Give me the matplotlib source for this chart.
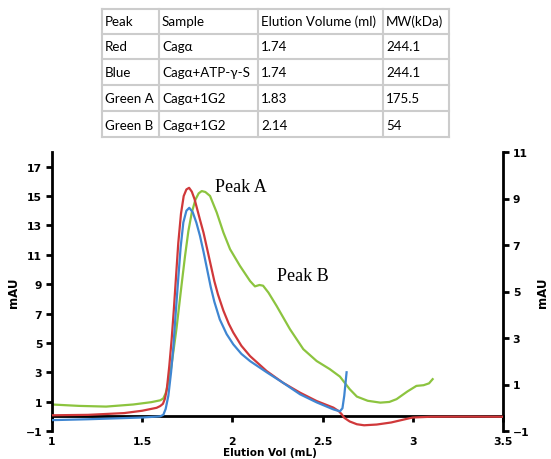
import numpy as np
import matplotlib
matplotlib.use("Agg")
import matplotlib.pyplot as plt

# ---------------------------------------------------------------------------
# table data
# ---------------------------------------------------------------------------
tab_header = ["Peak", "Sample", "Elution Volume (ml)", "MW(kDa)"]
tab_peak = ["Red", "Blue", "Green A", "Green B"]
tab_sample = ["Cag\u03b1", "Cag\u03b1+ATP-\u03b3-S", "Cag\u03b1+1G2", "Cag\u03b1+1G2"]
tab_vol = ["1.74", "1.74", "1.83", "2.14"]
tab_mw = ["244.1", "244.1", "175.5", "54"]

# ---------------------------------------------------------------------------
# chromatograms (elution volume mL, absorbance mAU)
# red and blue on left axis, green on right axis
# ---------------------------------------------------------------------------
red_x = [1.00, 1.20, 1.40, 1.50, 1.58, 1.60, 1.615, 1.626, 1.636, 1.65,
         1.663, 1.675, 1.688, 1.70, 1.715, 1.73, 1.745, 1.76, 1.775, 1.79,
         1.805, 1.82, 1.84, 1.86, 1.88, 1.90, 1.92, 1.95, 1.98, 2.005,
         2.05, 2.098, 2.19, 2.28, 2.375, 2.467, 2.56, 2.59, 2.606, 2.62,
         2.65, 2.69, 2.73, 2.80, 2.88, 2.95, 3.00, 3.10, 3.30, 3.50]
red_y = [0.07, 0.10, 0.22, 0.38, 0.58, 0.70, 0.85, 1.2, 1.8, 3.4,
         5.2, 7.2, 9.6, 11.8, 13.8, 15.0, 15.45, 15.56, 15.3, 14.8,
         14.1, 13.4, 12.5, 11.4, 10.3, 9.2, 8.3, 7.2, 6.3, 5.7,
         4.8, 4.1, 3.08, 2.29, 1.61, 1.04, 0.59, 0.35, 0.14, -0.1,
         -0.35, -0.54, -0.61, -0.56, -0.42, -0.22, -0.08, -0.03, -0.02, -0.03]

blue_x = [1.00, 1.20, 1.40, 1.50, 1.58, 1.60, 1.617, 1.63, 1.645, 1.66,
          1.672, 1.685, 1.70, 1.713, 1.728, 1.745, 1.761, 1.78, 1.80, 1.82,
          1.84, 1.86, 1.88, 1.90, 1.93, 1.968, 2.005, 2.05, 2.098, 2.19,
          2.28, 2.375, 2.467, 2.56, 2.596, 2.61, 2.62, 2.633]
blue_y = [-0.26, -0.20, -0.12, -0.08, -0.02, 0.0, 0.1, 0.5, 1.4, 3.0,
          4.6, 6.9, 9.4, 11.5, 13.2, 14.0, 14.2, 13.9, 13.2, 12.3,
          11.2, 10.0, 8.8, 7.8, 6.6, 5.6, 4.9, 4.25, 3.76, 3.0,
          2.29, 1.5, 0.95, 0.47, 0.34, 0.55, 1.4, 3.0]

green_x = [1.00, 1.15, 1.30, 1.45, 1.55, 1.60, 1.617, 1.63, 1.645, 1.66,
           1.672, 1.69, 1.705, 1.72, 1.737, 1.756, 1.775, 1.795, 1.813, 1.83,
           1.85, 1.876, 1.913, 1.95, 1.987, 2.042, 2.098, 2.125, 2.15, 2.17,
           2.20, 2.245, 2.319, 2.393, 2.467, 2.54, 2.596, 2.65, 2.69, 2.75,
           2.82, 2.87, 2.91, 2.97, 3.02, 3.06, 3.09, 3.11]
green_y = [0.14, 0.08, 0.05, 0.14, 0.24, 0.32, 0.40, 0.62, 1.1, 1.7,
           2.37, 3.4, 4.4, 5.4, 6.5, 7.6, 8.4, 8.95, 9.22, 9.32,
           9.28, 9.11, 8.4, 7.54, 6.82, 6.1, 5.45, 5.22, 5.28, 5.25,
           4.95, 4.38, 3.38, 2.52, 2.01, 1.66, 1.34, 0.8, 0.48, 0.3,
           0.22, 0.25, 0.37, 0.7, 0.94, 0.97, 1.05, 1.23]

c_red = "#d0383a"
c_blue = "#3f86d2"
c_green = "#8cc43f"

W, H = 551, 460
fig = plt.figure(figsize=(W/100., H/100.), dpi=100)

##############################################################################
# table drawn in pixel units
#-----------------------------------------------------------------------------
tx0, ty0, tx1, ty1 = 102, 10, 449, 138
tab = fig.add_axes([tx0/W, 1-ty1/H, (tx1-tx0)/W, (ty1-ty0)/H])
tab.set_xlim(0, tx1-tx0)
tab.set_ylim(ty1-ty0, 0)
tab.axis("off")
col_edges = [0, 57, 156, 281, 347]
row_edges = [0, 25, 50, 76, 102, 128]
for xe in col_edges:
	tab.plot([xe, xe], [0, 128], color="#cccccc", lw=1.5, clip_on=False)
for ye in row_edges:
	tab.plot([0, 347], [ye, ye], color="#cccccc", lw=1.5, clip_on=False)

rows = [tab_header] + [list(r) for r in zip(tab_peak, tab_sample, tab_vol, tab_mw)]
row_mid = [11.5, 37, 62.5, 89, 115.5]
for i, r in enumerate(rows):
	for j, txt in enumerate(r):
		tab.text(col_edges[j]+3, row_mid[i], txt, ha="left", va="center",
			fontsize=9.6, family=["Lato", "DejaVu Sans"], color="#000000")
#============================================================================

##############################################################################
# chromatogram
#-----------------------------------------------------------------------------
ax = fig.add_axes([52/W, 1-432/H, 451/W, 279/H])
ax2 = ax.twinx()

ax.plot(red_x, red_y, color=c_red, lw=1.6, zorder=3)
ax.plot(blue_x, blue_y, color=c_blue, lw=1.6, zorder=3)
ax2.plot(green_x, green_y, color=c_green, lw=1.6, zorder=2)

ax.set_xlim(1, 3.5)
ax.set_ylim(-1, 18)
ax2.set_ylim(-1, 11)
ax.set_zorder(ax2.get_zorder()+1)
ax.patch.set_visible(False)

ax.set_xticks([1, 1.5, 2, 2.5, 3, 3.5])
ax.set_xticklabels(["1", "1.5", "2", "2.5", "3", "3.5"])
ax.set_yticks(np.arange(-1, 18, 2))
ax2.set_yticks(np.arange(-1, 12, 2))

for a in (ax, ax2):
	a.spines["top"].set_visible(False)
	for s in a.spines.values():
		s.set_linewidth(2)
ax.spines["right"].set_visible(False)
ax2.spines["left"].set_visible(False)
ax2.spines["bottom"].set_visible(False)
ax.spines["bottom"].set_position(("data", 0))

ax.tick_params(axis="x", direction="out", length=4, width=2, pad=10, labelsize=7.8)
ax.tick_params(axis="y", direction="out", length=4, width=2, pad=3, labelsize=7.8)
ax2.tick_params(axis="y", direction="out", length=4, width=2, pad=3, labelsize=7.8)
for lab in ax.get_xticklabels() + ax.get_yticklabels() + ax2.get_yticklabels():
	lab.set_fontweight("bold")

ax.set_ylabel("mAU", fontsize=8.5, fontweight="bold", labelpad=4)
ax2.set_ylabel("mAU", fontsize=8.5, fontweight="bold", labelpad=5)
fig.text(270/W, 1-453/H, "Elution Vol (mL)", ha="center", va="center",
	fontsize=7.5, fontweight="bold")

ax.text(1.904, 15.65, "Peak A", ha="left", va="center", fontsize=13,
	family="Liberation Serif")
ax.text(2.245, 9.6, "Peak B", ha="left", va="center", fontsize=13,
	family="Liberation Serif")
#============================================================================

fig.savefig("out.png", dpi=100)
